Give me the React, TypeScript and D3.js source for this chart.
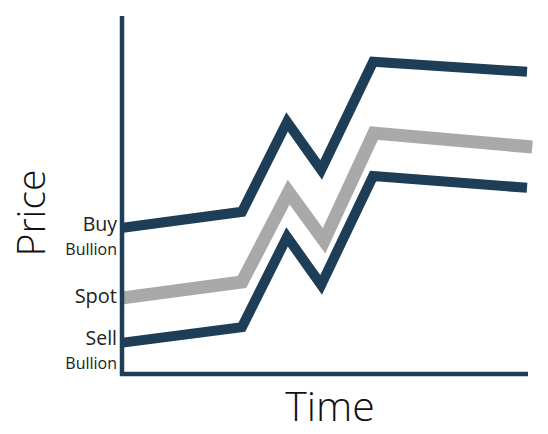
import React from "react";
import * as d3 from "d3";

const times = [0, 29.8, 40.9, 49.3, 62.1, 100];
const buyBullion = [40.8, 45.3, 70.4, 57.0, 87.2, 84.4];
const spot = [21.2, 25.7, 50.8, 37.2, 67.3, 63.4];
const sellBullion = [8.7, 13.1, 38.3, 24.9, 55.3, 52.0];
const spotTimes = [0, 29.8, 41.3, 50.0, 62.3, 101.3];

const W = 548;
const H = 434;
const NAVY = "#1e3d56";
const GRAY = "#a9a9a9";
const FONT = "'Open Sans', Lato, sans-serif";

export default function App() {
  const x = d3.scaleLinear().domain([0, 100]).range([121, 527]);
  const y = d3.scaleLinear().domain([0, 100]).range([374, 16]);
  const line = d3
    .line<[number, number]>()
    .x((d) => x(d[0]))
    .y((d) => y(d[1]));
  const zip = (t: number[], v: number[]) => t.map((tt, i) => [tt, v[i]] as [number, number]);

  return (
    <svg
      width={W}
      height={H}
      style={{ position: "absolute", left: 0, top: 0, background: "#fff" }}
    >
      <path d={line(zip(times, buyBullion)) || ""} fill="none" stroke={NAVY} strokeWidth={10} strokeLinejoin="miter" strokeMiterlimit={10} />
      <path d={line(zip(spotTimes, spot)) || ""} fill="none" stroke={GRAY} strokeWidth={13} strokeLinejoin="miter" strokeMiterlimit={10} />
      <path d={line(zip(times, sellBullion)) || ""} fill="none" stroke={NAVY} strokeWidth={10} strokeLinejoin="miter" strokeMiterlimit={10} />
      {/* axes */}
      <line x1={122} x2={122} y1={16} y2={376} stroke={NAVY} strokeWidth={4.5} />
      <line x1={120} x2={528} y1={374} y2={374} stroke={NAVY} strokeWidth={4.5} />
      {/* labels */}
      <g fontFamily={FONT} fill="#222" textAnchor="end">
        <text x={117} y={231} fontSize={19.5}>Buy</text>
        <text x={117} y={254.5} fontSize={16}>Bullion</text>
        <text x={117} y={303} fontSize={20}>Spot</text>
        <text x={117} y={345} fontSize={19.5}>Sell</text>
        <text x={117} y={368.5} fontSize={16}>Bullion</text>
      </g>
      <text
        transform={`translate(45, 213) rotate(-90)`}
        textAnchor="middle"
        fontFamily={FONT}
        fontWeight={300}
        fontSize={39}
        fill="#111"
      >
        Price
      </text>
      <text
        x={330}
        y={421}
        textAnchor="middle"
        fontFamily={FONT}
        fontWeight={300}
        fontSize={41}
        fill="#111"
      >
        Time
      </text>
    </svg>
  );
}
